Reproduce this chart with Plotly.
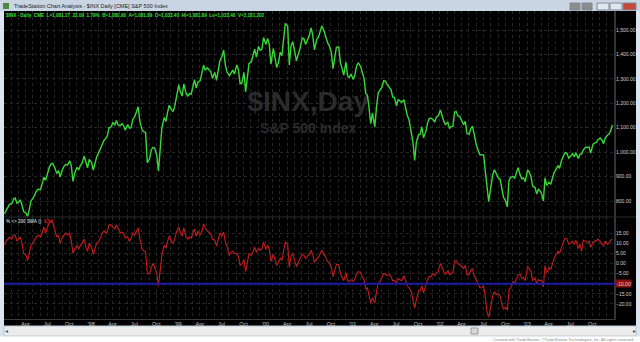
import plotly.graph_objects as go

W, H = 640, 342

# ---------------- data (weekly readings, 4 per month) ----------------
years = [1997, 1998, 1999, 2000, 2001, 2002, 2003]
week_days = [3, 10, 17, 24]

price_1997 = [748, 759, 770, 786, 790, 808, 812, 791, 795, 805, 784, 757, 750, 737, 766, 801,
              812, 830, 841, 848, 846, 871, 898, 885, 916, 939, 952, 954, 933, 912, 925, 899,
              929, 943, 950, 947, 965, 944, 880, 914, 938, 928, 945, 955, 983, 953, 936, 970]
price_1998 = [956, 927, 957, 980, 1001, 1020, 1035, 1049, 1055, 1068, 1100, 1101, 1122, 1110, 1130, 1111,
              1108, 1117, 1108, 1090, 1113, 1098, 1100, 1133, 1146, 1165, 1186, 1125, 1089, 1083, 1081, 957,
              973, 1009, 1020, 1017, 986, 923, 1005, 1098, 1142, 1125, 1163, 1192, 1176, 1166, 1188, 1229]
price_1999 = [1275, 1245, 1230, 1279, 1239, 1230, 1240, 1238, 1275, 1297, 1262, 1286, 1293, 1319, 1356, 1335,
              1345, 1337, 1330, 1302, 1327, 1294, 1342, 1373, 1391, 1418, 1356, 1328, 1313, 1327, 1336, 1320,
              1357, 1336, 1280, 1282, 1326, 1247, 1301, 1362, 1370, 1396, 1422, 1389, 1433, 1417, 1421, 1469]
price_2000 = [1441, 1465, 1441, 1360, 1424, 1387, 1346, 1366, 1409, 1395, 1464, 1527, 1516, 1357, 1435, 1452,
              1409, 1374, 1400, 1421, 1467, 1464, 1441, 1455, 1478, 1509, 1480, 1419, 1462, 1471, 1491, 1517,
              1494, 1465, 1448, 1436, 1408, 1342, 1379, 1429, 1431, 1365, 1342, 1315, 1369, 1312, 1305, 1320]
price_2001 = [1298, 1318, 1354, 1366, 1349, 1318, 1301, 1240, 1233, 1180, 1117, 1160, 1103, 1183, 1242, 1253,
              1266, 1292, 1291, 1277, 1264, 1256, 1225, 1224, 1190, 1215, 1210, 1204, 1215, 1181, 1150, 1134,
              1085, 1040, 966, 1040, 1071, 1073, 1104, 1059, 1085, 1120, 1138, 1139, 1134, 1123, 1144, 1148]
price_2002 = [1172, 1146, 1127, 1113, 1122, 1096, 1105, 1106, 1164, 1166, 1148, 1147, 1123, 1112, 1126, 1076,
              1073, 1097, 1106, 1067, 1027, 1007, 989, 990, 989, 921, 847, 797, 864, 908, 928, 916,
              893, 889, 846, 815, 800, 776, 884, 897, 900, 893, 915, 936, 906, 890, 895, 879]
price_2003 = [927, 918, 901, 861, 855, 829, 848, 841, 829, 800, 895, 864, 876, 868, 893, 916,
              930, 945, 934, 963, 987, 998, 995, 975, 985, 994, 981, 997, 974, 990, 993, 1008,
              1021, 1018, 1022, 996, 1029, 1038, 1039, 1050, 1058, 1050, 1035, 1058, 1069, 1074, 1088, 1111]

dev_1997 = [9, 11, 12, 13, 12, 14, 14, 11, 12, 13, 10, 5, 4, 1.5, 5, 9,
            10, 12, 13, 14, 13, 15, 18, 15, 18, 20, 21, 20, 16, 13, 14, 10,
            13, 14, 15, 14, 15, 11, 5, 7, 9, 7, 9, 10, 12, 8, 6, 10]
dev_1998 = [8, 4.5, 8, 10, 11, 13, 15, 16, 15, 16, 19, 19, 18, 17, 19, 17,
            15, 15.5, 14.5, 12.5, 13, 11, 12, 15, 14, 16, 17.5, 12, 7, 6, 6, -5,
            -5, -2, 0, -2, -5, -11, -2, 4, 9, 7.5, 11, 13.5, 11, 10, 12, 15.5]
dev_1999 = [18, 15, 13.5, 17.5, 13, 12, 13, 12.5, 15, 17, 13.5, 16, 14, 16, 19.5, 17.5,
            16, 15, 14.5, 12, 11.5, 8.5, 12.5, 15, 13.5, 15.5, 10.5, 8.5, 4, 5.5, 6, 5,
            5, 3.5, -1, -0.5, 2, -4, 0, 5, 4, 6, 8, 5.5, 7.5, 6.5, 7, 10.5]
dev_2000 = [7, 9, 7, 1, 4.5, 2, -1, 0.5, 2.5, 1.5, 6.5, 10.5, 9.5, -2, 3.5, 5,
            1, -1.5, 0.5, 2, 4.5, 4, 2.5, 3.5, 4.5, 6.5, 4.5, 0.5, 2.5, 3, 4.5, 6.5,
            4.5, 2.5, 1, 0.5, -2, -6.5, -4, -0.5, -0.5, -5, -7, -8.5, -4.5, -8.5, -9, -8]
dev_2001 = [-9, -7.5, -5, -4, -4.5, -7, -8, -12.5, -12, -16, -19.5, -17, -19.5, -14, -10, -9,
            -7, -5, -5, -6, -5.5, -6.5, -8.5, -8.5, -9.5, -7.5, -8, -8.5, -6, -8.5, -11, -12,
            -14, -18, -22, -18, -13.5, -13.5, -11, -14.5, -10.5, -8, -6.5, -6.5, -5, -6, -4.5, -4]
dev_2002 = [0, -2.5, -4, -5.5, -3.5, -5.5, -5, -4.5, 1, 1.5, 0, -0.5, -1.5, -2.5, -1, -5.5,
            -5.5, -3.5, -2.5, -6, -8.5, -10.5, -12, -12, -11, -17, -24, -26.5, -20, -16, -14, -15.5,
            -15, -16, -20, -22.5, -21.5, -23, -13, -12, -9, -10, -7.5, -5.5, -5.5, -7.5, -7, -8.5]
dev_2003 = [-1.5, -2.5, -4, -8.5, -7, -10, -8, -8.5, -8.5, -11.5, -1, -4.5, -2, -3, 0, 2.5,
            4.5, 6, 5, 8, 11, 12.5, 12, 9.5, 10, 11, 9.5, 11.5, 7.5, 9.5, 6, 11.5,
            11, 10.5, 11, 8, 10, 11, 11, 12, 11, 10, 8.5, 11, 9.5, 10, 11.5, 12]

level = -10.0

price_ticks = [800, 900, 1000, 1100, 1200, 1300, 1400, 1500]
dev_ticks = [-20, -15, -10, -5, 0, 5, 10, 15]

tick_dates = ["1997-04-01", "1997-07-01", "1997-10-01", "1998-01-01", "1998-04-01", "1998-07-01",
              "1998-10-01", "1999-01-01", "1999-04-01", "1999-07-01", "1999-10-01", "2000-01-01",
              "2000-04-01", "2000-07-01", "2000-10-01", "2001-01-01", "2001-04-01", "2001-07-01",
              "2001-10-01", "2002-01-01", "2002-04-01", "2002-07-01", "2002-10-01", "2003-01-01",
              "2003-04-01", "2003-07-01", "2003-10-01"]
tick_text = ["Apr", "Jul", "Oct", "'98", "Apr", "Jul", "Oct", "'99", "Apr", "Jul", "Oct", "'00",
             "Apr", "Jul", "Oct", "'01", "Apr", "Jul", "Oct", "'02", "Apr", "Jul", "Oct", "'03",
             "Apr", "Jul", "Oct"]

price = price_1997 + price_1998 + price_1999 + price_2000 + price_2001 + price_2002 + price_2003
dev = dev_1997 + dev_1998 + dev_1999 + dev_2000 + dev_2001 + dev_2002 + dev_2003
dates = [f"{y}-{m:02d}-{d:02d}" for y in years for m in range(1, 13) for d in week_days]
month_dates = [f"{y}-{m:02d}-01" for y in years for m in range(1, 13)]
assert len(price) == len(dates) == len(dev)


def px(x):
    return x / W


def py(y):
    return 1 - y / H


FONT = "Liberation Sans, Arial, sans-serif"
GRID = "#262626"

fig = go.Figure()

# watermark (behind the price line)
fig.add_trace(go.Scatter(x=["2000-06-28"], y=[1197], mode="text", text=["$INX,Day"],
                         textfont=dict(family=FONT, size=28, color="#2b2b2b", weight="bold"),
                         xaxis="x", yaxis="y", hoverinfo="skip"))
fig.add_trace(go.Scatter(x=["2000-06-28"], y=[1091], mode="text", text=["S&P 500 Index"],
                         textfont=dict(family=FONT, size=14, color="#2b2b2b", weight="bold"),
                         xaxis="x", yaxis="y", hoverinfo="skip"))

fig.add_trace(go.Scatter(x=dates, y=price, mode="lines",
                         line=dict(color="#38d838", width=1.4),
                         xaxis="x", yaxis="y", hoverinfo="skip"))
fig.add_trace(go.Scatter(x=dates, y=dev, mode="lines",
                         line=dict(color="#c41c1c", width=1.1),
                         xaxis="x2", yaxis="y2", hoverinfo="skip"))

xcommon = dict(domain=[px(4), px(615)], range=["1997-01-01", "2004-01-04"], type="date",
               tickmode="array", tickvals=tick_dates, ticktext=tick_text,
               showgrid=True, gridcolor=GRID, griddash="dot", gridwidth=1,
               minor=dict(tickmode="array", tickvals=month_dates, showgrid=True,
                          gridcolor=GRID, griddash="dot", gridwidth=1, ticks=""),
               zeroline=False, showline=False, ticks="",
               tickfont=dict(family=FONT, size=5.5, color="#c8c8c8"))

fig.update_layout(
    width=W, height=H, margin=dict(l=0, r=0, t=0, b=0),
    paper_bgcolor="#dbe5ef", plot_bgcolor="#000000", showlegend=False,
    xaxis=dict(xcommon, anchor="y", showticklabels=False, matches="x2"),
    xaxis2=dict(xcommon, anchor="y2", showticklabels=True),
    yaxis=dict(domain=[py(217), py(11)], range=[734.5, 1577.8], side="right", anchor="x",
               tickmode="array", tickvals=price_ticks, tickformat=",.2f",
               showgrid=True, gridcolor=GRID, griddash="dot", zeroline=False, ticks="",
               tickfont=dict(family=FONT, size=5, color="#d0d0d0")),
    yaxis2=dict(domain=[py(319), py(217)], range=[-27.4, 22.9], side="right", anchor="x2",
                tickmode="array", tickvals=dev_ticks, tickformat=".2f",
                showgrid=True, gridcolor=GRID, griddash="dot", zeroline=False, ticks="",
                tickfont=dict(family=FONT, size=5, color="#d0d0d0")),
)

shapes = []
# black chart area
shapes.append(dict(type="rect", xref="paper", yref="paper", x0=px(4), x1=px(636), y0=py(326), y1=py(11),
                   fillcolor="#000000", line=dict(width=0), layer="below"))
# title bar
shapes.append(dict(type="rect", xref="paper", yref="paper", x0=0, x1=1, y0=py(11), y1=1,
                   fillcolor="#c9d5e2", line=dict(width=0), layer="below"))
# scrollbar area
shapes.append(dict(type="rect", xref="paper", yref="paper", x0=px(4), x1=px(636), y0=py(336), y1=py(326),
                   fillcolor="#ececec", line=dict(color="#b8c8d8", width=1), layer="below"))
# bottom status strip
shapes.append(dict(type="rect", xref="paper", yref="paper", x0=0, x1=1, y0=0, y1=py(336.5),
                   fillcolor="#ffffff", line=dict(width=0), layer="below"))
# scroll thumb
shapes.append(dict(type="rect", xref="paper", yref="paper", x0=px(471), x1=px(478), y0=py(334), y1=py(328),
                   fillcolor="#d8d8d8", line=dict(color="#9a9a9a", width=1)))
# right axis line
shapes.append(dict(type="line", xref="paper", yref="paper", x0=px(615), x1=px(615), y0=py(320), y1=py(11),
                   line=dict(color="#6a6a6a", width=1)))
# separator between panels
shapes.append(dict(type="line", xref="paper", yref="paper", x0=px(4), x1=px(636), y0=py(217), y1=py(217),
                   line=dict(color="#2a2a2a", width=1)))
# bottom line of lower panel
shapes.append(dict(type="line", xref="paper", yref="paper", x0=px(4), x1=px(615), y0=py(319.5), y1=py(319.5),
                   line=dict(color="#3a3a3a", width=1)))
# blue level line
shapes.append(dict(type="line", xref="x2 domain", yref="y2", x0=0, x1=1, y0=level, y1=level,
                   line=dict(color="#1c1ca8", width=2)))
# window buttons
for x0, x1, col in [(570, 580, "#8c8c8c"), (582, 592, "#8c8c8c"),
                    (597, 609, "#dfe6ee"), (610, 622, "#dfe6ee"), (623, 636, "#c8453a")]:
    shapes.append(dict(type="rect", xref="paper", yref="paper", x0=px(x0), x1=px(x1), y0=py(10), y1=py(3),
                       fillcolor=col, line=dict(color="#7d8a98", width=1)))
# title icon
shapes.append(dict(type="rect", xref="paper", yref="paper", x0=px(3), x1=px(9), y0=py(9), y1=py(3),
                   fillcolor="#4a8a3a", line=dict(width=0)))
fig.update_layout(shapes=shapes)

ann = []
ann.append(dict(xref="paper", yref="paper", x=px(12), y=py(6), xanchor="left", yanchor="middle",
                text="TradeStation Chart Analysis - $INX Daily [CME] S&amp;P 500 Index", showarrow=False,
                font=dict(family=FONT, size=5.5, color="#222222")))
ann.append(dict(xref="paper", yref="paper", x=px(4), y=py(15.5), xanchor="left", yanchor="middle",
                text="<b>$INX - Daily  CME  L=1,081.17  22.09  1.79%  B=1,080.90  A=1,081.89  O=1,033.40  "
                     "Hi=1,081.89  Lo=1,033.40  V=2,181,202</b>", showarrow=False,
                font=dict(family=FONT, size=4.6, color="#3be03b")))
ann.append(dict(xref="paper", yref="paper", x=px(4), y=py(221.5), xanchor="left", yanchor="middle",
                text="<b>% &lt;&gt; 200 SMA ()</b>  <b><span style='color:#d02020'>8.54</span></b>",
                showarrow=False, font=dict(family=FONT, size=4.6, color="#bbbbbb")))
ann.append(dict(xref="paper", yref="y2", x=px(615), y=level, xanchor="left", yanchor="middle",
                text="-10.00", showarrow=False, bgcolor="#8e0e0e", borderpad=0.5,
                font=dict(family=FONT, size=5, color="#d8d8d8")))
ann.append(dict(xref="paper", yref="paper", x=px(636), y=py(339.3), xanchor="right", yanchor="middle",
                text="Created with TradeStation. \u00a9TradeStation Technologies, Inc. All rights reserved.",
                showarrow=False, font=dict(family=FONT, size=4, color="#8a8a8a")))
ann.append(dict(xref="paper", yref="paper", x=px(6), y=py(331), xanchor="center", yanchor="middle",
                text="\u25c2", showarrow=False, font=dict(family=FONT, size=6, color="#555555")))
ann.append(dict(xref="paper", yref="paper", x=px(634), y=py(331), xanchor="center", yanchor="middle",
                text="\u25b8", showarrow=False, font=dict(family=FONT, size=6, color="#555555")))
fig.update_layout(annotations=ann)

fig.write_html("out.html")
